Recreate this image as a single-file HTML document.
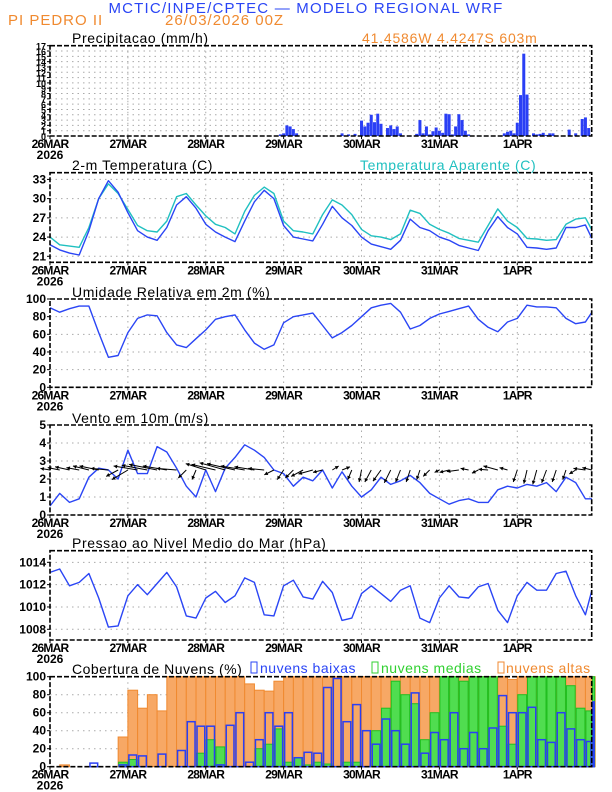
<!DOCTYPE html>
<html><head><meta charset="utf-8">
<style>
html,body{margin:0;padding:0;background:#fff;}
svg{display:block;font-family:"Liberation Sans",sans-serif;}
</style></head>
<body>
<svg id="chart" width="612" height="792" viewBox="0 0 612 792" xmlns="http://www.w3.org/2000/svg">
<text x="306" y="13" text-anchor="middle" font-size="15" fill="#2a45f5" letter-spacing="1.2">MCTIC/INPE/CPTEC — MODELO REGIONAL WRF</text>
<text x="8" y="25" font-size="15" fill="#f08a30" letter-spacing="1">PI PEDRO II</text>
<text x="165" y="25" font-size="15" fill="#f08a30" letter-spacing="1">26/03/2026 00Z</text>
<text x="72" y="43" font-size="14" fill="#000" letter-spacing="0.6">Precipitacao (mm/h)</text>
<text x="362" y="43" font-size="14" fill="#f08a30" letter-spacing="0.8">41.4586W 4.4247S 603m</text>
<text x="72" y="170" font-size="14" fill="#000" letter-spacing="0.6">2-m Temperatura (C)</text>
<text x="360" y="170" font-size="14" fill="#20c0c0" letter-spacing="0.6">Temperatura Aparente (C)</text>
<text x="72" y="297" font-size="14" fill="#000" letter-spacing="0.6">Umidade Relativa em 2m (%)</text>
<text x="72" y="423" font-size="14" fill="#000" letter-spacing="0.6">Vento em 10m (m/s)</text>
<text x="72" y="548" font-size="14" fill="#000" letter-spacing="0.6">Pressao ao Nivel Medio do Mar (hPa)</text>
<text x="72" y="674" font-size="14" fill="#000" letter-spacing="0.5">Cobertura de Nuvens (%)</text>
<g>
<rect x="251" y="662" width="6" height="11" fill="none" stroke="#2a45f5"/>
<text x="260" y="673" font-size="14" fill="#2a45f5" letter-spacing="0.5">nuvens baixas</text>
<rect x="372" y="662" width="6" height="11" fill="none" stroke="#30d030"/>
<text x="381" y="673" font-size="14" fill="#30d030" letter-spacing="0.5">nuvens medias</text>
<rect x="498" y="662" width="6" height="11" fill="none" stroke="#f08a30"/>
<text x="506" y="673" font-size="14" fill="#f08a30" letter-spacing="0.5">nuvens altas</text>
</g>
<g id="plots"></g>
</svg>
<script>
const dayLabels = ["26MAR","27MAR","28MAR","29MAR","30MAR","31MAR","1APR"];
const hours3 = [0,3,6,9,12,15,18,21,24,27,30,33,36,39,42,45,48,51,54,57,60,63,66,69,72,75,78,81,84,87,90,93,96,99,102,105,108,111,114,117,120,123,126,129,132,135,138,141,144,147,150,153,156,159,162,165,167];
const precipHour = [71,72,73,74,75,76,90,92,94,96,97,98,99,100,101,102,104,105,106,107,108,113,114,115,116,117,118,119,120,121,122,123,124,125,126,127,128,129,140,141,142,143,144,145,146,147,149,150,151,152,153,154,155,160,162,164,165,166];
const precipMm = [0.3,0.5,2.0,1.8,1.3,0.5,0.5,0.3,0.4,2.9,1.8,2.5,4.0,2.6,4.2,2.3,1.5,2.0,1.3,1.8,0.5,0.4,3.0,0.5,1.8,0.3,0.9,1.6,1.0,0.6,4.2,4.1,0.3,1.8,4.1,3.0,1.0,0.3,0.5,0.8,1.0,0.5,2.5,7.7,15.5,7.8,0.5,0.3,0.4,0.6,0.2,0.5,0.5,1.2,0.5,3.2,3.5,1.5];
const tempC = [22.8,22.0,21.5,21.2,25.0,30.0,32.8,31.0,27.8,25.0,24.0,23.5,25.5,29.0,30.3,28.5,26.0,24.8,24.0,23.3,26.5,29.5,31.3,30.0,25.8,24.0,23.7,23.4,26.0,28.8,27.0,25.8,24.0,22.9,22.5,22.1,23.5,26.8,25.5,25.0,24.0,23.5,22.7,22.3,21.9,25.0,27.2,25.5,24.5,22.4,22.3,22.1,22.3,25.5,25.5,25.9,23.8];
const apparentC = [24.0,22.8,22.6,22.4,25.5,30.0,32.3,30.8,28.3,25.8,25.0,24.8,26.5,30.3,30.8,29.0,27.3,26.0,25.5,24.5,28.0,30.5,31.8,30.8,26.5,25.0,24.8,24.5,27.5,29.8,29.0,27.5,25.2,24.2,24.0,23.6,24.5,28.2,27.7,26.0,25.2,24.6,23.8,23.5,23.2,25.8,28.4,26.5,25.5,23.8,23.7,23.5,23.6,26.0,26.8,27.0,25.1];
const rhPct = [90,85,89,92,92,62,34,36,62,78,82,81,62,48,45,55,65,77,80,82,65,50,43,48,73,80,82,84,70,56,62,70,80,90,93,95,85,66,70,78,83,86,89,92,77,68,63,74,78,93,91,91,90,78,72,74,85];
const windSpeed = [0.5,1.2,0.7,0.9,2.1,2.6,2.5,2.0,3.6,2.3,2.3,3.8,3.5,2.6,1.6,1.0,2.5,1.3,2.6,3.2,3.9,3.6,3.2,2.5,2.3,1.6,2.1,1.9,2.5,1.5,2.4,1.6,1.0,1.4,2.1,1.7,1.9,2.2,1.8,1.2,0.9,0.6,0.8,0.9,0.7,0.7,1.4,1.6,1.5,1.7,1.6,1.8,1.3,2.1,1.8,0.9,0.9];
const windU = [-1.2,-1.5,-1.8,-1.6,-2.0,-2.4,-2.2,-1.5,-2.0,-3.0,-3.2,-3.5,-3.0,-2.5,-1.0,-0.5,-2.5,-3.0,-3.2,-3.5,-3.0,-2.5,-2.0,-1.2,-0.8,-1.0,-1.5,-1.8,-1.2,0.8,1.0,-0.5,-0.3,-0.8,-1.0,-0.8,-0.6,-0.5,-0.4,-0.8,-0.6,-1.2,-1.5,-1.0,-0.8,-1.2,-1.8,-1.0,-0.5,-0.4,-0.5,-0.6,-0.5,-0.4,-0.8,-1.5,-1.2];
const windV = [0.2,0.3,0.4,0.3,0.5,0.5,0.2,-0.8,-1.2,0.5,0.6,0.7,0.5,0.2,-1.0,-1.2,0.8,0.7,0.9,0.8,0.5,0.4,0.2,-0.6,-1.2,-1.0,-0.8,-0.5,-0.3,0.5,0.4,-1.2,-1.5,-1.5,-1.4,-1.6,-1.5,-1.5,-1.2,-0.8,-0.3,-0.3,-0.2,0.2,-0.4,0.1,0.5,0.3,-1.5,-1.7,-1.8,-1.6,-1.5,-1.2,-0.5,0.2,0.3];
const pressureHpa = [1013.1,1013.4,1011.9,1012.2,1013.0,1010.8,1008.2,1008.3,1011.0,1012.0,1011.1,1012.1,1013.1,1011.8,1009.2,1009.0,1010.8,1011.4,1010.4,1011.0,1012.6,1012.2,1009.3,1009.2,1011.9,1012.4,1010.9,1010.7,1012.3,1011.3,1008.8,1009.0,1011.2,1011.9,1011.2,1010.5,1011.5,1011.9,1009.0,1008.6,1010.8,1011.9,1010.9,1010.8,1011.8,1012.1,1009.7,1008.6,1011.0,1012.2,1011.5,1011.5,1013.0,1013.2,1011.0,1009.3,1011.5];
const cloudHigh = [0,2,0,0,0,0,0,33,85,65,80,62,100,100,100,100,100,100,100,100,92,85,84,95,100,100,100,100,100,100,100,100,100,100,100,100,100,100,100,100,100,100,100,100,100,100,100,97,100,100,100,100,100,100,100,100,100];
const cloudMedium = [0,0,0,0,0,0,0,5,8,0,0,0,0,0,0,15,30,22,0,0,0,20,25,42,5,10,2,5,3,0,5,5,0,40,65,95,80,70,30,60,100,100,95,100,100,100,45,25,80,100,100,100,100,90,65,62,100];
const cloudLow = [0,0,0,0,4,0,0,2,13,12,0,14,0,18,50,45,45,2,46,60,5,30,60,45,60,10,16,15,88,98,50,69,40,25,53,40,25,82,15,38,30,60,20,38,20,43,79,60,60,66,30,27,60,42,30,28,72];
const tempTicks = [21,24,27,30,33];
const rhTicks = [0,20,40,60,80,100];
const windTicks = [0,1,2,3,4,5];
const presTicks = [1008,1010,1012,1014];
const cloudTicks = [0,20,40,60,80,100];
const precipTicks = [0,1,2,3,4,5,6,7,8,9,10,11,12,13,14,15,16,17];

const NS = "http://www.w3.org/2000/svg";
const root = document.getElementById("plots");
const X0 = 50, X1 = 591.7, HOUR = 77.88/24;
function xh(h){ return X0 + h*HOUR; }
function mk(tag, attrs, parent){
  const e = document.createElementNS(NS, tag);
  for (const k in attrs) e.setAttribute(k, attrs[k]);
  (parent||root).appendChild(e);
  return e;
}
function panel(name, top, bot, vmin, vmax, ticks, tickFmt){
  const g = mk("g", {});
  
  
  const y = v => bot - (v - vmin) / (vmax - vmin) * (bot - top);
  for (let d = 1; d < 7; d++){
    const l = mk("line", {x1:xh(d*24), x2:xh(d*24), y1:top, y2:bot, stroke:"#aaa", "stroke-width":1, "stroke-dasharray":"1.5,4"}, g);
    
    
  }
  ticks.forEach(t => {
    if (t > vmin && t < vmax){
      const l = mk("line", {x1:X0, x2:X1, y1:y(t), y2:y(t), stroke:"#aaa", "stroke-width":1, "stroke-dasharray":"1.5,4"}, g);
      
      
    }
    const tk = mk("line", {x1:X0-3, x2:X0, y1:y(t), y2:y(t), stroke:"#000"}, g);
    
    
    const tx = mk("text", {x:X0-4, y:y(t)+4, "text-anchor":"end", "font-size": name==="precip" ? 9 : 12, "font-weight":"bold", fill:"#000"}, g);
    
    
    tx.textContent = tickFmt ? tickFmt(t) : t;
  });
  dayLabels.forEach((lab, i) => {
    const tk = mk("line", {x1:xh(i*24), x2:xh(i*24), y1:bot, y2:bot+3, stroke:"#000"}, g);
    
    
    const tx = mk("text", {x:xh(i*24), y:bot+12, "text-anchor":"middle", "font-size":12, "font-weight":"bold", "letter-spacing":"-0.8", fill:"#000"}, g);
    
    
    tx.textContent = lab;
  });
  const yr = mk("text", {x:xh(0), y:bot+23, "text-anchor":"middle", "font-size":12, "font-weight":"bold", fill:"#000"}, g);
  
  
  yr.textContent = "2026";
  const plot = mk("g", {}, g);
  
  
  return {g, plot, y, top, bot};
}
function frame(p){
  const f = mk("rect", {x:X0, y:p.top, width:X1-X0, height:p.bot-p.top, fill:"none", stroke:"#000", "stroke-width":1.6, "stroke-dasharray":"5,2"}, p.g);
  
  
}
function line(p, hs, vals, color, name){
  const pts = hs.map((h, i) => xh(h).toFixed(1) + "," + p.y(vals[i]).toFixed(1)).join(" ");
  const l = mk("polyline", {points:pts, fill:"none", stroke:color, "stroke-width":1.4, "stroke-linejoin":"round"}, p.plot);
  
  
}

// Precipitation
const pP = panel("precip", 45.7, 136, 0, 17, precipTicks);
precipHour.forEach((h, i) => {
  const b = mk("rect", {x:xh(h)-1.5, y:pP.y(precipMm[i]), width:3, height:pP.bot - pP.y(precipMm[i]), fill:"#2a3ff5"}, pP.plot);
  
  
});
frame(pP);

// Temperature
const pT = panel("temp", 172.7, 262.3, 21 - 6/6.417, 33 + 6.7/6.417, tempTicks);
line(pT, hours3, apparentC, "#20c0c0", "apparent-temp-line");
line(pT, hours3, tempC, "#2a45f5", "temp-line");
frame(pT);

// RH
const pR = panel("rh", 299, 387.3, 0, 100, rhTicks);
line(pR, hours3, rhPct, "#2a45f5", "rh-line");
frame(pR);

// Wind
const pW = panel("wind", 425, 515, 0, 5, windTicks);
line(pW, hours3, windSpeed, "#2a45f5", "wind-speed-line");
hours3.forEach((h, i) => {
  const x = xh(h), y0 = pW.y(2.5);
  const x2 = x + windU[i]*8, y2 = y0 - windV[i]*8;
  const a = mk("line", {x1:x, y1:y0, x2:x2, y2:y2, stroke:"#000", "stroke-width":1}, pW.plot);
  
  
  const ang = Math.atan2(y2 - y0, x2 - x);
  const hd = mk("polygon", {points:[x2+","+y2, (x2-4*Math.cos(ang-0.5))+","+(y2-4*Math.sin(ang-0.5)), (x2-4*Math.cos(ang+0.5))+","+(y2-4*Math.sin(ang+0.5))].join(" "), fill:"#000"}, pW.plot);
  
  
});
frame(pW);

// Pressure
const pS = panel("pressure", 550.7, 640, 1008 - 10.7/11.15, 1014 + 11.6/11.15, presTicks);
line(pS, hours3, pressureHpa, "#2a45f5", "pressure-line");
frame(pS);

// Clouds
const pC = panel("cloud", 676.7, 766.7, 0, 100, cloudTicks);
hours3.forEach((h, i) => {
  const w = (i < hours3.length - 1 ? hours3[i+1] - h : 1) * HOUR;
  const x = xh(h);
  const bh = mk("rect", {x:x, y:pC.y(cloudHigh[i]), width:w, height:pC.bot - pC.y(cloudHigh[i]), fill:"#f7a865", stroke:"#f08a30", "stroke-width":1}, pC.plot);
  
  
});
hours3.forEach((h, i) => {
  const w = (i < hours3.length - 1 ? hours3[i+1] - h : 1) * HOUR;
  const x = xh(h);
  const bm = mk("rect", {x:x+0.5, y:pC.y(cloudMedium[i]), width:w-1, height:pC.bot - pC.y(cloudMedium[i]), fill:"#50dd50", stroke:"#20c020", "stroke-width":1}, pC.plot);
  
  
});
hours3.forEach((h, i) => {
  const w = (i < hours3.length - 1 ? hours3[i+1] - h : 1) * HOUR;
  const x = xh(h);
  const bl = mk("rect", {x:x+1, y:pC.y(cloudLow[i]), width:w-2, height:pC.bot - pC.y(cloudLow[i]), fill:"none", stroke:"#2a3ff5", "stroke-width":1.5}, pC.plot);
  
  
});
frame(pC);
</script>
</body></html>
